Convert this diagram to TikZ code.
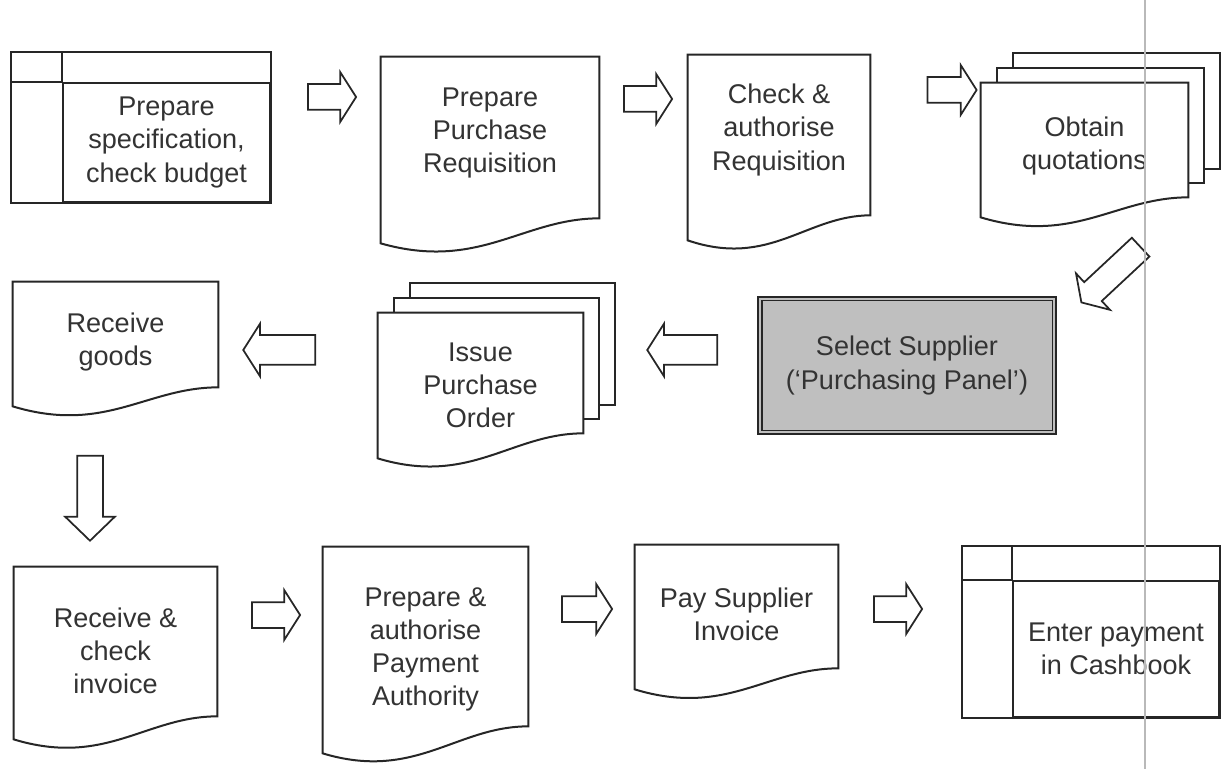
\documentclass[tikz,border=0pt]{standalone}
\usepackage{fontspec}
\setmainfont{Liberation Sans}
\usetikzlibrary{shapes.arrows,positioning,calc,backgrounds}

\begin{document}
\begin{tikzpicture}[
  x=0.2mm, y=-0.2mm,
  every node/.style={font=\fontsize{15.4}{18.8}\selectfont, text=black!80},
  docbox/.style 2 args={rectangle, inner sep=0pt, align=center,
    minimum width=#1*0.2mm, minimum height=#2*0.2mm},
  ledger/.style 2 args={docbox={#1}{#2}, draw=black!85, line width=0.4mm},
  panel/.style={rectangle, draw=black!85, line width=0.5mm, fill=gray!50,
    align=center, minimum width=59.6mm, minimum height=27.4mm},
  outline/.style={draw=black!85, line width=0.4mm, fill=white},
  barrow/.style={single arrow, draw=black!85, fill=white, line width=0.35mm,
    single arrow tip angle=115, single arrow head extend=2.4mm,
    inner xsep=0pt, inner ysep=2.4mm, minimum height=#1*0.2mm}
]
\useasboundingbox (0,0) rectangle (1222,769);

\node[ledger={207}{119}] (b1) at (166.5,142.5) {Prepare\\specification,\\check budget};
\node[docbox={218}{152}] (d2) at (490,133) {Prepare\\Purchase\\Requisition};
\node[docbox={182}{150}] (d3) at (779,130) {Check \&\\authorise\\Requisition};
\node[docbox={207}{126}] (d4) at (1084.5,146) {Obtain\\quotations};
\node[panel] (ss) at (907,365.5) {Select Supplier\\(‘Purchasing Panel’)};
\node[docbox={205}{144}] (d5) at (480.5,385) {Issue\\Purchase\\Order};
\node[docbox={205}{120}] (d6) at (115.5,342) {Receive\\goods};
\node[docbox={203}{168}] (d7) at (115.5,651) {Receive \&\\check\\invoice};
\node[docbox={205}{204}] (d8) at (425.5,649) {Prepare \&\\authorise\\Payment\\Authority};
\node[docbox={203}{138}] (d9) at (736.5,614) {Pay Supplier\\Invoice};
\node[ledger={206}{136}] (b11) at (1116,649) {Enter payment\\in Cashbook};

% outer frame, header row and side column of the ledger boxes
\foreach \n/\w/\h in {b1/51/30, b11/50/34} {
  \draw[black!85, line width=0.4mm] ($(\n.north west)+(-\w,-\h)$) rectangle (\n.south east);
  \draw[black!85, line width=0.4mm] ($(\n.north west)+(-\w,0)$) -- (\n.north west) -- ($(\n.north west)+(0,-\h)$);
}
\draw[black!85, line width=0.3mm] ($(ss.north west)+(5,5)$) rectangle ($(ss.south east)+(-5,-5)$);

\begin{scope}[on background layer]
  % sheets stacked behind the multi-copy documents
  \foreach \n/\r in {d4/-12, d5/-24}
    \foreach \k in {2,1}
      \draw[outline] ($(\n.north west)+(16*\k,-15*\k)$) rectangle ($(\n.south east)+(16*\k,\r-14*\k)$);
  % document outlines with the wavy bottom edge
  \foreach \n/\r/\l in {d2/9/34, d3/10/35, d4/-12/8, d5/-24/1, d6/-15/4, d7/-19/4, d8/-25/2, d9/-15/6}
    \draw[outline] (\n.north west) -- (\n.north east) -- ($(\n.south east)+(0,\r)$)
      .. controls ($(\n.south east)!0.35!(\n.south west)+(0,\r)$)
      and ($(\n.south west)!0.45!(\n.south east)+(0,\l+28)$) .. ($(\n.south west)+(0,\l)$) -- cycle;
\end{scope}

\node[barrow=48] (a1) at (328,97) {};
\node[barrow=48] (a2) at (644,99) {};
\node[barrow=49] (a3) at (948,90) {};
\node[barrow=81, rotate=223] (a4) at (1114,272) {};
\node[barrow=70, inner ysep=2.8mm, single arrow head extend=2.3mm, rotate=180] (a5) at (687,350) {};
\node[barrow=72, inner ysep=2.8mm, single arrow head extend=2.3mm, rotate=180] (a6) at (284,350) {};
\node[barrow=85, single arrow tip angle=92, rotate=270] (a7) at (90,492) {};
\node[barrow=48] (a8) at (272,615) {};
\node[barrow=50] (a9) at (583,609) {};
\node[barrow=48] (a10) at (894,609) {};

\draw[gray!55, line width=0.4mm] (1145,0) -- (1145,769);
\end{tikzpicture}
\end{document}
